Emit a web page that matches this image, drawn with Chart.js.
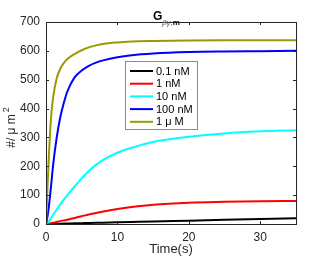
<!DOCTYPE html>
<html>
<head>
<meta charset="utf-8">
<script src="https://cdn.jsdelivr.net/npm/chart.js@4"></script>
<style>
  html, body { margin: 0; padding: 0; background: #fff; }
  #wrap { width: 327px; height: 258px; }
</style>
</head>
<body>
<div id="wrap"><canvas id="chart" width="327" height="258"></canvas></div>
<script>
// time grid (s), shared by every series
const timeS = [0, 0.2, 0.4, 0.6, 0.8, 1, 1.5, 2, 2.5, 3, 4, 5, 6, 7, 8, 10, 12, 15, 20, 25, 30, 35];

const labels = ['0.1 nM', '1 nM', '10 nM', '100 nM', '1 \u03bc M'];
const colors = ['#000000', '#ff0000', '#00ffff', '#0000ff', '#9a9a00'];

const conc01nM = [0, 0.1, 0.2, 0.3, 0.4, 0.5, 0.8, 1.1, 1.4, 1.7, 2.2, 2.8, 3.4, 4, 4.6, 5.8, 7, 8.8, 11.5, 14.3, 17, 19.5];
const conc1nM = [0, 0.8, 1.6, 2.5, 3.4, 4.5, 7, 10, 12.5, 15, 21, 27, 33, 38, 43, 52, 59, 67, 74, 77, 79, 80];
const conc10nM = [0, 3, 9, 16, 24, 32, 50, 68, 85, 100, 130, 158, 184, 205, 222, 247, 264, 284, 302, 314, 321, 325];
const conc100nM = [0, 25, 60, 105, 155, 205, 300, 370, 420, 460, 508, 532, 548, 559, 567, 578, 585, 591, 596, 598, 599, 600];
const conc1uM = [0, 120, 235, 330, 395, 440, 505, 538, 558, 572, 589, 602, 612, 619, 624, 629, 632, 634, 636, 637, 637, 637];

const series = [conc01nM, conc1nM, conc10nM, conc100nM, conc1uM];

const xTicks = [0, 10, 20, 30];
const yTicks = [0, 100, 200, 300, 400, 500, 600, 700];

const FONT = 'Liberation Sans, Arial, Helvetica, sans-serif';

// box, inward ticks on all four sides, titles and legend (MATLAB look)
const matlabFrame = {
  id: 'matlabFrame',
  afterDatasetsDraw(chart) {
    const { ctx, chartArea: a, scales: { x, y } } = chart;
    ctx.save();
    ctx.strokeStyle = '#262626';
    ctx.lineWidth = 1;
    ctx.strokeRect(Math.round(a.left) + 0.5, Math.round(a.top) + 0.5,
      Math.round(a.right - a.left), Math.round(a.bottom - a.top));
    ctx.beginPath();
    xTicks.forEach(v => {
      const px = Math.round(x.getPixelForValue(v)) + 0.5;
      ctx.moveTo(px, a.bottom); ctx.lineTo(px, a.bottom - 3);
      ctx.moveTo(px, a.top); ctx.lineTo(px, a.top + 3);
    });
    yTicks.forEach(v => {
      const py = Math.round(y.getPixelForValue(v)) + 0.5;
      ctx.moveTo(a.left, py); ctx.lineTo(a.left + 3, py);
      ctx.moveTo(a.right, py); ctx.lineTo(a.right - 3, py);
    });
    ctx.stroke();

    // legend
    const lx = 125, ly = 61, lw = 72, lh = 68;
    ctx.fillStyle = '#fff';
    ctx.fillRect(lx, ly, lw, lh);
    ctx.strokeStyle = '#8c8c8c';
    ctx.strokeRect(lx + 0.5, ly + 0.5, lw, lh);
    ctx.font = '11px ' + FONT;
    ctx.textBaseline = 'middle';
    labels.forEach((lab, i) => {
      const ry = ly + 10 + i * 12.7;
      ctx.strokeStyle = colors[i];
      ctx.lineWidth = 2;
      ctx.beginPath();
      ctx.moveTo(lx + 5, ry); ctx.lineTo(lx + 28, ry);
      ctx.stroke();
      ctx.fillStyle = '#000';
      ctx.fillText(lab, lx + 31, ry + 0.5);
    });

    // title G_{βγ,m}
    ctx.textBaseline = 'alphabetic';
    ctx.fillStyle = '#000';
    ctx.font = 'bold 12px ' + FONT;
    ctx.fillText('G', 153, 20);
    ctx.font = 'italic 8px ' + FONT;
    ctx.fillStyle = '#555';
    ctx.fillText('\u03b2\u03b3,', 162, 25);
    const w = ctx.measureText('\u03b2\u03b3,').width;
    ctx.fillStyle = '#000';
    ctx.font = 'bold 8px ' + FONT;
    ctx.fillText('m', 162 + w, 25);

    // x title
    ctx.fillStyle = '#262626';
    ctx.font = '13px ' + FONT;
    ctx.textAlign = 'center';
    ctx.fillText('Time(s)', (a.left + a.right) / 2, 253);

    // y title, rotated
    ctx.translate(15, 128);
    ctx.rotate(-Math.PI / 2);
    ctx.textAlign = 'left';
    ctx.font = '12px ' + FONT;
    const main = '#/ \u03bc m';
    const mw = ctx.measureText(main).width;
    ctx.fillText(main, -mw / 2 - 3, 0);
    ctx.font = '9px ' + FONT;
    ctx.fillText('2', mw / 2 - 1, -6);
    ctx.restore();
  }
};

new Chart(document.getElementById('chart'), {
  type: 'line',
  data: {
    datasets: series.map((vals, i) => ({
      label: labels[i],
      data: timeS.map((t, k) => ({ x: t, y: vals[k] })),
      borderColor: colors[i],
      backgroundColor: colors[i],
      borderWidth: 2,
      pointRadius: 0,
      cubicInterpolationMode: 'monotone',
      order: 5 - i
    }))
  },
  options: {
    responsive: false,
    animation: false,
    layout: { padding: { top: 22, right: 31, left: 0, bottom: 0 } },
    plugins: { legend: { display: false }, tooltip: { enabled: false }, title: { display: false } },
    scales: {
      x: {
        type: 'linear',
        min: 0,
        max: 35,
        afterFit: s => { s.height = 34; },
        afterBuildTicks: s => { s.ticks = xTicks.map(v => ({ value: v })); },
        grid: { display: false, drawTicks: false },
        border: { display: false },
        ticks: { color: '#262626', font: { family: FONT, size: 12 }, padding: 6, maxRotation: 0 }
      },
      y: {
        min: 0,
        max: 700,
        afterFit: s => { s.width = 46; },
        afterBuildTicks: s => { s.ticks = yTicks.map(v => ({ value: v })); },
        grid: { display: false, drawTicks: false },
        border: { display: false },
        ticks: { color: '#262626', font: { family: FONT, size: 12 }, padding: 6 }
      }
    }
  },
  plugins: [matlabFrame]
});
</script>
</body>
</html>
